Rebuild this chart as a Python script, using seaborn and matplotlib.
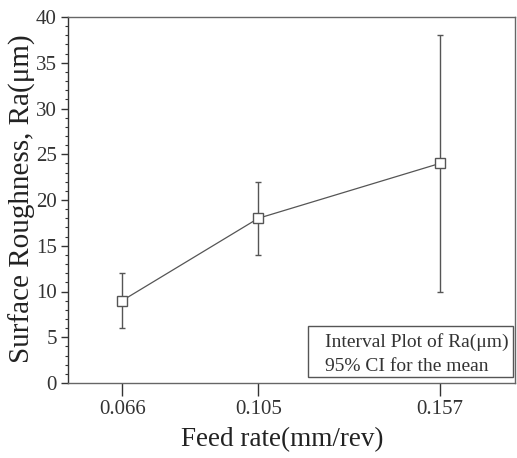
import matplotlib
matplotlib.use("Agg")
import matplotlib.pyplot as plt
import seaborn as sns
import pandas as pd
from matplotlib.ticker import MultipleLocator
from matplotlib.patches import Rectangle

feed_rate = [0.066, 0.105, 0.157]
mean_ra = [9, 18, 24]
ci_low = [6, 14, 10]
ci_high = [12, 22, 38]
tick_labels = ["0.066", "0.105", "0.157"]
legend_lines = ["Interval Plot of Ra(μm)", "95% CI for the mean"]

sns.set_theme(style="white")
plt.rcParams['font.family'] = ['Liberation Serif', 'DejaVu Serif']

fig = plt.figure(figsize=(5.17, 4.58), dpi=100)
ax = fig.add_axes([68/517, 1 - 383/458, (515-68)/517, (383-17)/458])

df = pd.DataFrame({"feed": feed_rate, "ra": mean_ra})
col = "#555555"
yerr = [[m - l for m, l in zip(mean_ra, ci_low)], [h - m for m, h in zip(mean_ra, ci_high)]]
ax.errorbar(feed_rate, mean_ra, yerr=yerr, fmt="none", ecolor=col, elinewidth=1.0,
            capsize=2.5, capthick=1.0, zorder=2)
sns.lineplot(data=df, x="feed", y="ra", ax=ax, color=col, linewidth=0.9,
             marker="s", markersize=7.5, markerfacecolor="white",
             markeredgecolor=col, markeredgewidth=1.0, zorder=3)

ax.set_xlim(0.0505, 0.1785)
ax.set_ylim(0, 40)
ax.set_xticks(feed_rate)
ax.set_xticklabels(tick_labels)
ax.yaxis.set_major_locator(MultipleLocator(5))
ax.yaxis.set_minor_locator(MultipleLocator(1))
ax.tick_params(axis="x", which="major", direction="out", length=9.5, width=1,
               color="#333333", labelsize=15, labelcolor="#333333", pad=3, bottom=True)
ax.tick_params(axis="y", which="major", direction="out", length=5, width=1,
               color="#333333", labelsize=15, labelcolor="#333333", pad=3, left=True)
ax.tick_params(axis="y", which="minor", direction="out", length=2.5, width=0.8,
               color="#333333", left=True)

for s in ax.spines.values():
    s.set_color("#666666")
    s.set_linewidth(1.0)
ax.spines["left"].set_color("#333333")

ax.set_xlabel("Feed rate(mm/rev)", fontsize=19.5, color="#222222")
ax.xaxis.set_label_coords((282.5 - 68) / 447, -(440 - 383) / 366)
ax.xaxis.label.set_va("center")
ax.set_ylabel("Surface Roughness, Ra(μm)", fontsize=21, color="#222222")
ax.yaxis.set_label_coords((22 - 68) / 447, (383 - 199) / 366)
ax.yaxis.label.set_va("center")

ax.add_patch(Rectangle((0.538, 0.0164), 0.9955 - 0.538, 0.156 - 0.0164,
                       transform=ax.transAxes, facecolor="white", edgecolor="#555555",
                       linewidth=1.0, zorder=4))
ax.text(0.574, 0.112, legend_lines[0], transform=ax.transAxes, fontsize=14,
        color="#333333", va="center", ha="left", zorder=5)
ax.text(0.574, 0.046, legend_lines[1], transform=ax.transAxes, fontsize=14,
        color="#333333", va="center", ha="left", zorder=5)

fig.savefig("out.png", dpi=100)
